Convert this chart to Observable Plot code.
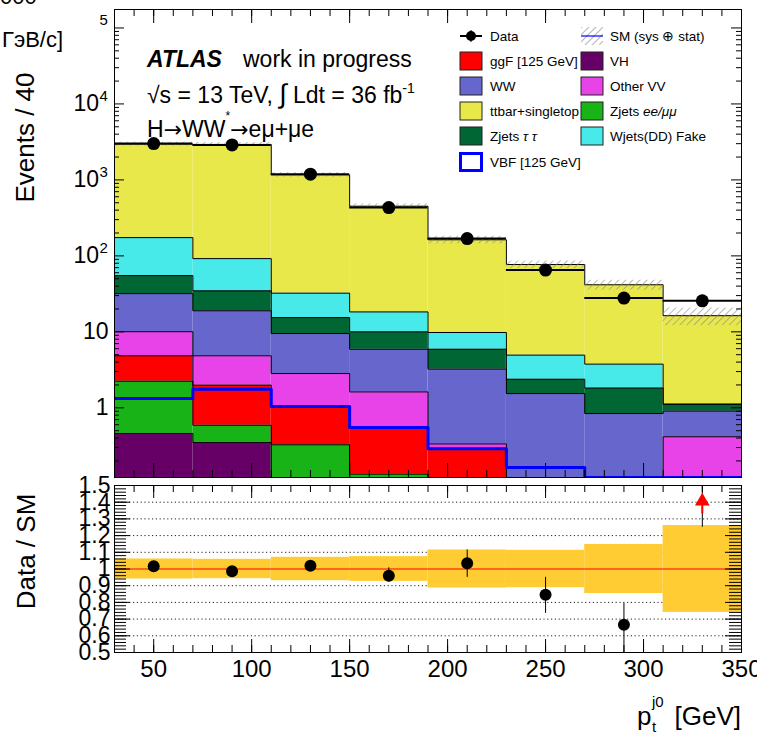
<!DOCTYPE html>
<html><head><meta charset="utf-8">
<script src="https://cdn.jsdelivr.net/npm/d3@7"></script>
<script src="https://cdn.jsdelivr.net/npm/@observablehq/plot@0.6"></script>
<style>
body{margin:0;background:#fff;}
#wrap{position:relative;width:757px;height:734px;overflow:hidden;background:#fff;}
#wrap svg{position:absolute;left:0;}
</style></head><body><div id="wrap"></div>
<script>
// ---------------- data ----------------
const binLo = [30,70,110,150,190,230,270,310];
const binHi = [70,110,150,190,230,270,310,350];
const binCenter = [50,90,130,170,210,250,290,330];
const processes = ["VH","Zjets ee/μμ","ggF [125 GeV]","Other VV","WW","Zjets ττ","Wjets(DD) Fake","ttbar+singletop"];
const colors = ["#660066","#17b317","#ff0000","#e843e8","#6666cc","#006633","#48e9e9","#e9e84b"];
const vh        = [0.46,0.35,0,0,0,0,0,0];
const zjetsEEMM = [1.78,0.24,0.326,0.134,0,0,0,0];
const ggF       = [2.6,1.40,0.73,0.416,0.29,0,0,0];
const otherVV   = [5.2,2.85,1.77,1.07,0.045,0,0,0.416];
const ww        = [21.8,14.1,6.67,4.28,2.9,1.54,0.84,0.49];
const zjetsTT   = [23.1,15.7,5.9,4.1,2.67,0.84,0.98,0.21];
const wjetsFake = [119,57.4,16.9,8.3,3.9,2.56,1.94,0];
const ttbar     = [2784,2838,1135,432,153,72,37.9,15.2];
const vbf       = [1.33,1.76,1.04,0.55,0.29,0.164,0,0];
const dataEvents = [3005,2888,1190,432,169,65,27.8,25.6];
const sysBand    = [0.06,0.058,0.07,0.074,0.114,0.112,0.147,0.26];
const ratio      = [1.016,0.986,1.02,0.96,1.034,0.846,0.666,1.57];
const ratioErrLo = [0.02,0.02,0.02,0.04,0.084,0.112,0.2,0.32];
const ratioErrHi = [0.02,0.02,0.02,0.047,0.08,0.104,0.128,0.4];
const arrowBins  = [330];
const yTickValues = [1,10,100,1000,10000,100000];
const yTickBase   = ["1","10","10","10","10",""];
const yTickExp    = ["","","2","3","4","5"];
const xTickLabels = [50,100,150,200,250,300,350];
const ratioTickValues = [0.5,0.6,0.7,0.8,0.9,1.0,1.1,1.2,1.3,1.4,1.5];
const ratioTickLabels = ["0.5","0.6","0.7","0.8","0.9","1","1.1","1.2","1.3","1.4","1.5"];

// ---------------- layout ----------------
const FONT = '"Liberation Sans", Arial, Helvetica, sans-serif';
const W = 757;
const mainH = 480, mT = 9, mB = 3, mL = 114, mR = 16;
const frameW = W - mL - mR, frameH = mainH - mT - mB;
const yMin = 0.121, yMax = 1.75e5;
const series = [vh, zjetsEEMM, ggF, otherVV, ww, zjetsTT, wjetsFake, ttbar];

const cum = binLo.map(() => 0);
const layerRects = [], steps = [];
series.forEach((vals, k) => {
  const rs = [];
  vals.forEach((v, i) => {
    const base = cum[i], top = base + v;
    if (v > 0) rs.push({x1: binLo[i], x2: binHi[i], y1: Math.max(base, 1e-3), y2: top});
    steps.push({x: binLo[i], y: Math.max(top, 1e-3), k}, {x: binHi[i], y: Math.max(top, 1e-3), k});
    cum[i] = top;
  });
  layerRects.push(rs);
});
const smTotal = cum.slice();
const bins = binLo.map((lo, i) => ({lo, hi: binHi[i], c: binCenter[i], d: dataEvents[i],
  sm: smTotal[i], s: sysBand[i], r: ratio[i], rl: ratio[i] - ratioErrLo[i], rh: ratio[i] + ratioErrHi[i]}));
const vbfSteps = [];
vbf.forEach((v, i) => { vbfSteps.push({x: binLo[i], y: Math.max(v, yMin)}, {x: binHi[i], y: Math.max(v, yMin)}); });

const logMinor = [];
for (let e = -1; e <= 5; e++) for (let m = 2; m <= 9; m++) { const v = m * Math.pow(10, e); if (v > yMin && v < yMax) logMinor.push(v); }
const xMinor = d3.range(30, 351, 10);
const yLabelObjs = yTickValues.map((v, i) => ({v, b: yTickBase[i], e: yTickExp[i]}));

const mainPlot = Plot.plot({
  width: W, height: mainH, marginTop: mT, marginBottom: mB, marginLeft: mL, marginRight: mR,
  x: {domain: [30, 350], axis: null},
  y: {type: "log", domain: [yMin, yMax], axis: null},
  style: {fontFamily: FONT, background: "transparent", overflow: "visible"},
  marks: [
    ...layerRects.map((rs, k) => Plot.rect(rs, {x1: "x1", x2: "x2", y1: "y1", y2: "y2", fill: colors[k], clip: true})),
    Plot.line(steps, {x: "x", y: "y", z: "k", stroke: "black", strokeWidth: 1, clip: true}),
    Plot.rect(bins, {x1: "lo", x2: "hi", y1: d => d.sm * (1 - d.s), y2: d => d.sm * (1 + d.s), fill: "url(#hatch)", clip: true}),
    Plot.line(vbfSteps, {x: "x", y: "y", stroke: "#0000ff", strokeWidth: 3, clip: true}),
    Plot.ruleY(bins, {y: "d", x1: "lo", x2: "hi", stroke: "black", strokeWidth: 2}),
    Plot.dot(bins, {x: "c", y: "d", r: 6.5, fill: "black"}),
    // ticks
    Plot.tickY(yTickValues, {y: d => d, insetRight: frameW - 10}),
    Plot.tickY(logMinor, {y: d => d, insetRight: frameW - 5}),
    Plot.tickY(yTickValues, {y: d => d, insetLeft: frameW - 10}),
    Plot.tickY(logMinor, {y: d => d, insetLeft: frameW - 5}),
    Plot.tickX(xTickLabels, {x: d => d, insetBottom: frameH - 14}),
    Plot.tickX(xMinor, {x: d => d, insetBottom: frameH - 7}),
    Plot.tickX(xTickLabels, {x: d => d, insetTop: frameH - 14}),
    Plot.tickX(xMinor, {x: d => d, insetTop: frameH - 7}),
    Plot.text(yLabelObjs.filter(d => d.e === ""), {y: "v", text: "b", frameAnchor: "left", textAnchor: "end", dx: -6, fontSize: 23}),
    Plot.text(yLabelObjs.filter(d => d.e !== ""), {y: "v", text: "b", frameAnchor: "left", textAnchor: "end", dx: -15.5, fontSize: 23}),
    Plot.text(yLabelObjs.filter(d => d.e !== ""), {y: "v", text: "e", frameAnchor: "left", textAnchor: "start", dx: -15, dy: -8, fontSize: 15}),
    Plot.frame({stroke: "black", strokeWidth: 1})
  ]
});
const defs = d3.select(mainPlot).insert("defs", ":first-child");
const pat = defs.append("pattern").attr("id", "hatch").attr("patternUnits", "userSpaceOnUse")
  .attr("width", 5).attr("height", 5).attr("patternTransform", "rotate(45)");
pat.append("line").attr("x1", 0).attr("y1", 0).attr("x2", 0).attr("y2", 5).attr("stroke", "#888").attr("stroke-width", 1.2);
mainPlot.style.top = "0px";

// ---------------- ratio panel ----------------
const rH = 254, rT = 5, rB = 82;
const rFrameH = rH - rT - rB;
const ratioMinor = d3.range(0.5, 1.5001, 0.02);
const gridVals = [0.6,0.7,0.8,0.9,1.1,1.2,1.3,1.4];
const ratioPlot = Plot.plot({
  width: W, height: rH, marginTop: rT, marginBottom: rB, marginLeft: mL, marginRight: mR,
  x: {domain: [30, 350], axis: null},
  y: {domain: [0.5, 1.5], axis: null},
  style: {fontFamily: FONT, background: "transparent", overflow: "visible"},
  marks: [
    Plot.ruleY(gridVals, {y: d => d, stroke: "#222", strokeDasharray: "1.2,2.6", strokeWidth: 1}),
    Plot.rect(bins, {x1: "lo", x2: "hi", y1: d => 1 - d.s, y2: d => 1 + d.s, fill: "#ffcc33", clip: true}),
    Plot.ruleY([1], {y: d => d, stroke: "red", strokeWidth: 1}),
    Plot.ruleX(bins, {x: "c", y1: "rl", y2: "rh", stroke: "black", strokeWidth: 1, clip: true}),
    Plot.dot(bins, {x: "c", y: "r", r: 6, fill: "black", clip: true}),
    Plot.ruleX(arrowBins, {x: d => d, y1: 1.33, y2: 1.39, stroke: "red", strokeWidth: 2}),
    Plot.dot(arrowBins, {x: d => d, y: 1.405, symbol: "triangle", r: 4.5, fill: "red", stroke: "red"}),
    Plot.tickY(ratioTickValues, {y: d => d, insetRight: frameW - 16}),
    Plot.tickY(ratioMinor, {y: d => d, insetRight: frameW - 12}),
    Plot.tickY(ratioTickValues, {y: d => d, insetLeft: frameW - 16}),
    Plot.tickY(ratioMinor, {y: d => d, insetLeft: frameW - 12}),
    Plot.tickX(xTickLabels, {x: d => d, insetBottom: rFrameH - 13}),
    Plot.tickX(xMinor, {x: d => d, insetBottom: rFrameH - 7}),
    Plot.tickX(xTickLabels, {x: d => d, insetTop: rFrameH - 13}),
    Plot.tickX(xMinor, {x: d => d, insetTop: rFrameH - 7}),
    Plot.text(ratioTickValues, {y: d => d, text: (d, i) => ratioTickLabels[i], frameAnchor: "left", textAnchor: "end", dx: -4, fontSize: 23}),
    Plot.text(xTickLabels, {x: d => d, text: d => String(d), frameAnchor: "bottom", lineAnchor: "top", dy: 7, fontSize: 24}),
    Plot.frame({stroke: "black", strokeWidth: 1})
  ]
});
ratioPlot.style.top = "480px";

const wrap = document.getElementById("wrap");
wrap.appendChild(mainPlot);
wrap.appendChild(ratioPlot);

// ---------------- overlay: titles, labels, legend ----------------
const ov = d3.create("svg").attr("width", W).attr("height", 734)
  .style("position", "absolute").style("left", "0px").style("top", "0px")
  .style("font-family", FONT).style("pointer-events", "none");
const od = ov.append("defs");
const p2 = od.append("pattern").attr("id", "hatchLeg").attr("patternUnits", "userSpaceOnUse")
  .attr("width", 5).attr("height", 5).attr("patternTransform", "rotate(45)");
p2.append("line").attr("x1", 0).attr("y1", 0).attr("x2", 0).attr("y2", 5).attr("stroke", "#888").attr("stroke-width", 1.2);

const ARROWFONT = '"DejaVu Sans", sans-serif';
// ATLAS labels
const t1 = ov.append("text").attr("x", 147).attr("y", 67).attr("font-size", 23);
t1.append("tspan").attr("font-weight", "bold").attr("font-style", "italic").text("ATLAS");
t1.append("tspan").attr("x", 243).text("work in progress");
const t2 = ov.append("text").attr("x", 147).attr("y", 103).attr("font-size", 23);
t2.append("tspan").text("√s = 13 TeV, ");
t2.append("tspan").attr("font-size", 27).text("∫");
t2.append("tspan").text(" Ldt = 36 fb");
t2.append("tspan").attr("font-size", 14).attr("dy", -10).text("-1");
const t3 = ov.append("text").attr("x", 147).attr("y", 137).attr("font-size", 23);
t3.append("tspan").text("H");
t3.append("tspan").attr("font-family", ARROWFONT).attr("font-size", 22).text("→");
t3.append("tspan").text("WW");
t3.append("tspan").attr("font-size", 12).attr("dy", -17).text("*");
t3.append("tspan").attr("dy", 17).attr("font-family", ARROWFONT).attr("font-size", 22).text("→");
t3.append("tspan").text("eμ+μe");

// y titles
ov.append("text").attr("transform", "translate(34,137.5) rotate(-90)").attr("text-anchor", "middle")
  .attr("font-size", 26).text("Events / 40");
ov.append("text").attr("x", 2).attr("y", 47).attr("font-size", 22).text("ГэВ/с]");
ov.append("text").attr("x", 0).attr("y", 4).attr("font-size", 22).text("000");
ov.append("text").attr("transform", "translate(35,551.5) rotate(-90)").attr("text-anchor", "middle")
  .attr("font-size", 26).text("Data / SM");

// x title
ov.append("text").attr("x", 741).attr("y", 725).attr("text-anchor", "end").attr("font-size", 26).text("[GeV]");
ov.append("text").attr("x", 637).attr("y", 725).attr("font-size", 26).text("p");
ov.append("text").attr("x", 652).attr("y", 707).attr("font-size", 15).text("j0");
ov.append("text").attr("x", 652).attr("y", 732).attr("font-size", 15).text("t");

// legend
const col1 = 460, col2 = 581, sw = 22, sh = 18;
const rowY = [36, 61, 86, 111, 136, 162];
const leg = ov.append("g").attr("font-size", 13.5);
function swatch(x, cy, color) {
  leg.append("rect").attr("x", x).attr("y", cy - sh / 2).attr("width", sw).attr("height", sh)
    .attr("fill", color).attr("stroke", "#222").attr("stroke-width", 1);
}
function label(x, cy, parts) {
  const t = leg.append("text").attr("x", x).attr("y", cy + 5);
  parts.forEach(([s, it]) => t.append("tspan").attr("font-style", it ? "italic" : "normal").text(s));
}
// Data
leg.append("line").attr("x1", col1).attr("x2", col1 + sw).attr("y1", rowY[0]).attr("y2", rowY[0]).attr("stroke", "black").attr("stroke-width", 2);
leg.append("line").attr("x1", col1 + sw / 2).attr("x2", col1 + sw / 2).attr("y1", rowY[0] - 6).attr("y2", rowY[0] + 6).attr("stroke", "black").attr("stroke-width", 1);
leg.append("circle").attr("cx", col1 + sw / 2).attr("cy", rowY[0]).attr("r", 5).attr("fill", "black");
label(col1 + 30, rowY[0], [["Data", false]]);
// SM
leg.append("rect").attr("x", col2).attr("y", rowY[0] - sh / 2).attr("width", sw).attr("height", sh).attr("fill", "url(#hatchLeg)");
leg.append("line").attr("x1", col2).attr("x2", col2 + sw).attr("y1", rowY[0]).attr("y2", rowY[0]).attr("stroke", "#0000ff").attr("stroke-width", 1.2);
label(col2 + 29, rowY[0], [["SM (sys ⊕ stat)", false]]);
// processes
const legendLeft = [[2, rowY[1]], [4, rowY[2]], [7, rowY[3]], [5, rowY[4]]];
const legendRight = [[0, rowY[1]], [3, rowY[2]], [1, rowY[3]], [6, rowY[4]]];
const labelParts = {
  1: [["Zjets ", false], ["ee/μμ", true]],
  5: [["Zjets  ", false], ["τ τ", true]]
};
legendLeft.forEach(([k, y]) => { swatch(col1, y, colors[k]); label(col1 + 30, y, labelParts[k] || [[processes[k], false]]); });
legendRight.forEach(([k, y]) => { swatch(col2, y, colors[k]); label(col2 + 29, y, labelParts[k] || [[processes[k], false]]); });
// VBF
leg.append("rect").attr("x", col1 + 0.5).attr("y", rowY[5] - sh / 2 + 0.5).attr("width", sw - 1).attr("height", sh - 1)
  .attr("fill", "white").attr("stroke", "#0000ff").attr("stroke-width", 3);
label(col1 + 30, rowY[5], [["VBF [125 GeV]", false]]);

wrap.appendChild(ov.node());
</script></body></html>
